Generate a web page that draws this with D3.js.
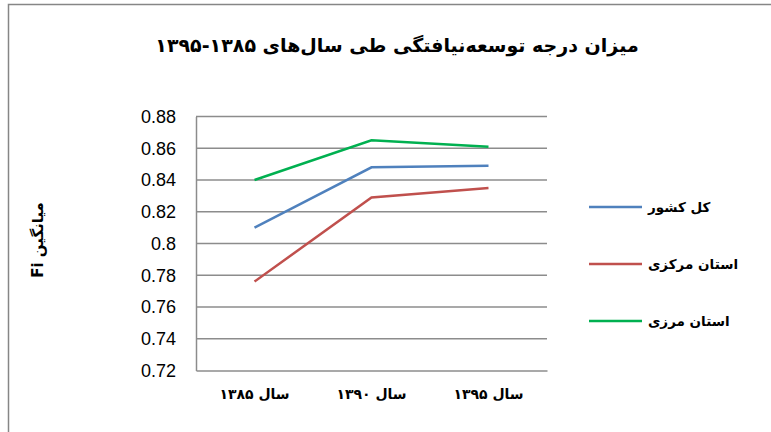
<!DOCTYPE html>
<html>
<head>
<meta charset='utf-8' />
<title></title>
<style>
  body{ margin:0; background:#fff; }
  svg{ display:block; }
  .fa{ font-family:"DejaVu Sans", sans-serif; font-weight:bold; direction:rtl; }
  .tick text{ font-family:"Liberation Sans", Arial, sans-serif; font-size:18px; fill:#000; }
</style>
</head>
<body>
<script src="https://d3js.org/d3.v7.min.js"></script>
<script>

// data
let years = ['سال ۱۳۸۵', 'سال ۱۳۹۰', 'سال ۱۳۹۵']
let yTicks = [0.72, 0.74, 0.76, 0.78, 0.8, 0.82, 0.84, 0.86, 0.88]
let seriesNames = ['کل کشور', 'استان مرکزی', 'استان مرزی']
let seriesColors = ['#4F81BD', '#C0504D', '#00B050']
let kolKeshvar = [0.810, 0.848, 0.849]
let ostanMarkazi = [0.776, 0.829, 0.835]
let ostanMarzi = [0.840, 0.865, 0.861]

let series = [kolKeshvar, ostanMarkazi, ostanMarzi]

let width = 771, height = 432,
  plot = {left:196, right:547, top:116.5, bottom:370.5}

let svg = d3.select('body').append('svg').attr('width',width).attr('height',height)

// outer chart border
svg.append('rect')
  .attr('x',8.5).attr('y',4.5).attr('width',width).attr('height',height)
  .style('fill','none').style('stroke','#868686').style('stroke-width',1.5)

let x = d3.scaleBand().domain(years).range([plot.left,plot.right]),
  y = d3.scaleLinear().domain([0.72,0.88]).range([plot.bottom,plot.top])

// grid
svg.append('g').selectAll('line').data(yTicks.slice(1)).enter().append('line')
  .attr('x1',plot.left).attr('x2',plot.right)
  .attr('y1',d => y(d)).attr('y2',d => y(d))
  .style('stroke','#8c8c8c').style('stroke-width',1.5)

// y axis
let ya = svg.append('g').attr('transform','translate('+plot.left+',0)')
  .call(d3.axisLeft(y).tickValues(yTicks).tickFormat(d => String(+d.toFixed(2))).tickSize(0).tickPadding(20))
ya.select('.domain').style('stroke','#8c8c8c').style('stroke-width',1.5)

// x axis
let xa = svg.append('g').attr('transform','translate(0,'+plot.bottom+')')
  .call(d3.axisBottom(x).tickSize(0).tickPadding(19))
xa.select('.domain').style('stroke','#8c8c8c').style('stroke-width',1.5)
xa.selectAll('text').attr('class','fa').style('font-family','"DejaVu Sans", sans-serif').style('font-size','14px').style('font-weight','bold')

// lines
let line = d3.line().x((d,i) => x(years[i]) + x.bandwidth()/2).y(d => y(d))
svg.append('g').selectAll('path').data(series).enter().append('path')
  .attr('d',d => line(d))
  .style('fill','none')
  .style('stroke',(d,i) => seriesColors[i])
  .style('stroke-width',2.5)

// title
svg.append('text').attr('class','fa')
  .attr('x',397).attr('y',52)
  .attr('text-anchor','middle')
  .style('font-size','19px')
  .text('میزان درجه توسعه‌نیافتگی طی سال‌های ۱۳۸۵-۱۳۹۵')

// y label
svg.append('text').attr('class','fa')
  .attr('transform','translate(43,240) rotate(-90)')
  .attr('text-anchor','middle')
  .style('font-size','15px')
  .text('میانگین Fi')

// legend
let legY = [207, 264, 321]
let leg = svg.append('g').selectAll('g').data(seriesNames).enter().append('g')
  .attr('transform',(d,i) => 'translate(589,'+legY[i]+')')
leg.append('line').attr('x1',0).attr('x2',53)
  .style('stroke',(d,i) => seriesColors[i]).style('stroke-width',2.5)
leg.append('text').attr('class','fa')
  .attr('x',59).attr('y',5)
  .attr('text-anchor','end')
  .style('font-size','13.5px')
  .text(d => d)

</script>
</body>
</html>
